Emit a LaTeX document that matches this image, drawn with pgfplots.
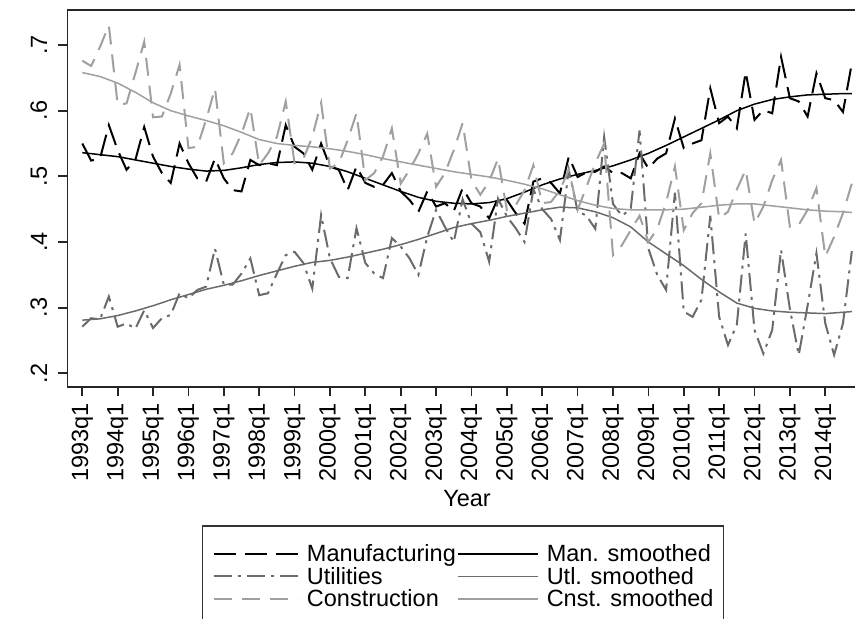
\documentclass[border=0pt]{standalone}
\usepackage{fontspec}
\setmainfont{Liberation Sans}
\usepackage{pgfplots}
\usepackage{pgfplotstable}
\pgfplotsset{compat=1.18}
\definecolor{utl}{HTML}{6B6B6B}
\definecolor{cns}{HTML}{A0A0A0}
\newcommand{\chartfont}{\fontsize{11.75}{14}\selectfont}
\pgfplotsset{
  limg/.style={legend image code/.code={\draw[##1] (0pt,0pt) -- (42pt,0pt);}},
  simg/.style={legend image code/.code={\draw[##1] (0pt,0pt) -- (40pt,0pt);}},
}

\pgfplotstableread{
q man utl cns
0 .550 .271 .676
1 .524 .284 .668
2 .527 .282 .697
3 .578 .317 .730
4 .540 .271 .609
5 .510 .276 .611
6 .525 .268 .657
7 .575 .296 .705
8 .530 .269 .590
9 .505 .284 .591
10 .490 .289 .626
11 .550 .322 .670
12 .520 .314 .543
13 .497 .327 .545
14 .492 .332 .586
15 .527 .390 .634
16 .497 .335 .520
17 .479 .335 .535
18 .477 .352 .565
19 .525 .375 .604
20 .517 .319 .517
21 .520 .322 .535
22 .517 .352 .560
23 .578 .380 .614
24 .545 .385 .520
25 .535 .368 .527
26 .510 .329 .560
27 .550 .441 .612
28 .515 .375 .512
29 .510 .347 .520
30 .479 .345 .555
31 .515 .421 .596
32 .490 .368 .494
33 .484 .352 .505
34 .487 .345 .530
35 .505 .406 .573
36 .477 .393 .489
37 .464 .375 .510
38 .446 .350 .535
39 .477 .408 .565
40 .454 .449 .484
41 .459 .423 .505
42 .447 .400 .540
43 .482 .465 .581
44 .459 .428 .494
45 .454 .415 .472
46 .436 .370 .492
47 .467 .466 .527
48 .464 .439 .449
49 .444 .421 .456
50 .428 .400 .479
51 .492 .480 .517
52 .497 .450 .459
53 .490 .435 .461
54 .474 .403 .479
55 .530 .510 .510
56 .499 .447 .449
57 .506 .440 .484
58 .507 .420 .520
59 .515 .560 .550
60 .505 .458 .380
61 .505 .440 .395
62 .497 .450 .418
63 .535 .570 .440
64 .512 .390 .400
65 .527 .350 .420
66 .535 .327 .460
67 .588 .475 .515
68 .543 .294 .418
69 .550 .286 .444
70 .555 .312 .459
71 .634 .440 .535
72 .581 .286 .436
73 .591 .243 .446
74 .573 .274 .480
75 .659 .413 .510
76 .586 .266 .428
77 .601 .230 .454
78 .596 .266 .494
79 .682 .388 .525
80 .619 .298 .423
81 .614 .228 .426
82 .591 .303 .449
83 .657 .383 .482
84 .619 .276 .378
85 .616 .228 .408
86 .598 .276 .444
87 .672 .386 .489
}\rawdata

\pgfplotstableread{
q mans utls cnss
0 .536 .281 .658
2 .533 .283 .652
4 .530 .288 .642
6 .525 .295 .628
8 .520 .303 .612
10 .515 .312 .600
12 .511 .320 .592
14 .508 .328 .585
16 .509 .334 .577
18 .513 .341 .567
20 .518 .349 .556
22 .521 .356 .550
24 .522 .363 .547
26 .520 .369 .545
28 .515 .372 .542
30 .507 .377 .538
32 .497 .383 .533
34 .487 .389 .527
36 .477 .396 .522
38 .468 .404 .517
40 .462 .413 .512
42 .459 .422 .507
44 .458 .428 .503
46 .460 .433 .499
48 .466 .439 .494
50 .476 .444 .488
52 .487 .449 .481
54 .496 .453 .472
56 .503 .452 .463
58 .509 .446 .456
60 .516 .437 .451
62 .525 .423 .449
64 .535 .400 .449
66 .547 .382 .449
68 .560 .364 .450
70 .573 .343 .453
72 .586 .324 .456
74 .600 .307 .458
76 .610 .299 .458
78 .617 .295 .455
80 .621 .293 .452
82 .624 .292 .449
84 .625 .291 .447
86 .626 .293 .446
87 .626 .294 .445
}\smoothdata

\begin{document}
\begin{tikzpicture}
\begin{axis}[
  name=ax, at={(0pt,0pt)}, anchor=south west,
  scale only axis, width=393.75pt, height=188.5pt,
  xmin=-1.673, xmax=87.36, ymin=0.1792, ymax=0.7533,
  axis x line*=box, axis y line*=left,
  xtick pos=left, ytick pos=left,
  tick align=outside, major tick length=4.5pt,
  axis line style={line width=0.85pt, black!85},
  tick style={line width=0.85pt, black!85},
  xtick={0,4,...,84},
  xticklabels={1993q1,1994q1,1995q1,1996q1,1997q1,1998q1,1999q1,2000q1,2001q1,2002q1,2003q1,2004q1,2005q1,2006q1,2007q1,2008q1,2009q1,2010q1,2011q1,2012q1,2013q1,2014q1},
  ytick={0.2,0.3,0.4,0.5,0.6,0.7},
  yticklabels={.2,.3,.4,.5,.6,.7},
  tick label style={font=\chartfont},
  xticklabel style={rotate=90, anchor=east, inner sep=3.5pt},
  yticklabel style={rotate=90, anchor=south, inner sep=5.5pt},
  xlabel={Year},
  xlabel style={font=\chartfont, at={(axis description cs:0.5073,-0.297)}, anchor=center, inner sep=0pt},
  legend columns=2,
  legend cell align=left,
  legend style={
    at={(axis description cs:0.1704,-0.366)}, anchor=north west,
    draw=black!80, line width=0.85pt,
    inner xsep=5pt, inner ysep=8.4pt,
    font=\chartfont,
    nodes={inner sep=0pt, text height=9.6pt, text depth=1.65pt},
    column sep=4.2pt,
    /tikz/every even column/.append style={column sep=0.5pt},
    row sep=0pt,
  },
]
\addplot[black, line width=1pt, dash pattern=on 11pt off 4.5pt, limg]
  table[x=q, y=man] {\rawdata};
\addlegendentry{Manufacturing}
\addplot[black, line width=0.75pt, simg]
  table[x=q, y=mans] {\smoothdata};
\addlegendentry{Man. smoothed}
\addplot[utl, line width=1pt, dash pattern=on 9pt off 3pt on 1.5pt off 3pt, limg]
  table[x=q, y=utl] {\rawdata};
\addlegendentry{Utilities}
\addplot[utl, line width=0.75pt, simg]
  table[x=q, y=utls] {\smoothdata};
\addlegendentry{Utl. smoothed}
\addplot[cns, line width=1pt, dash pattern=on 9pt off 5pt, limg]
  table[x=q, y=cns] {\rawdata};
\addlegendentry{Construction}
\addplot[cns, line width=0.75pt, simg]
  table[x=q, y=cnss] {\smoothdata};
\addlegendentry{Cnst. smoothed}
\end{axis}
\pgfresetboundingbox
\useasboundingbox (-33.75pt,-116pt) rectangle (393.75pt,193.5pt);
\end{tikzpicture}
\end{document}
